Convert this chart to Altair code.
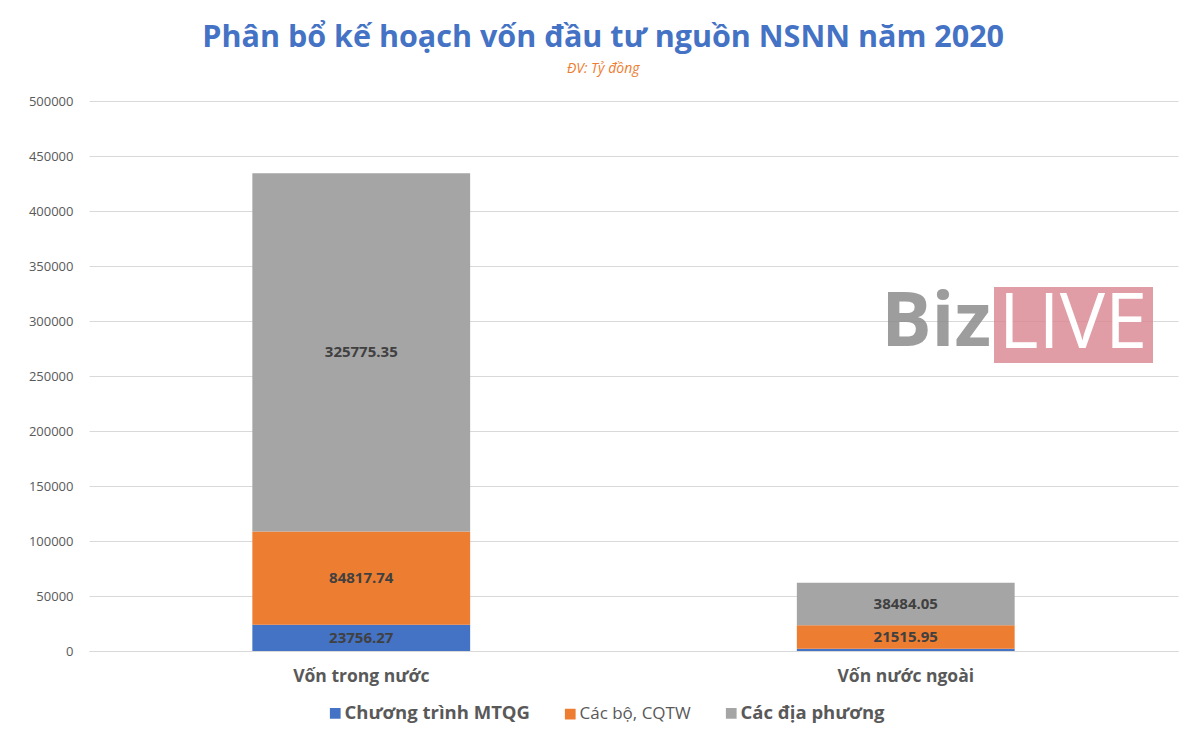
import altair as alt
import pandas as pd

categories = ["Vốn trong nước", "Vốn nước ngoài"]
series = ["Chương trình MTQG", "Các bộ, CQTW", "Các địa phương"]
mtqg = [23756.27, 2000.0]
cacbo = [84817.74, 21515.95]
diaphuong = [325775.35, 38484.05]
colors = ["#4472C4", "#ED7D31", "#A5A5A5"]

rows = []
for i, c in enumerate(categories):
    for j, (s, vals) in enumerate(zip(series, [mtqg, cacbo, diaphuong])):
        v = vals[i]
        rows.append({"cat": c, "series": s, "order": j, "value": v,
                     "label": f"{v:.2f}" if v > 5000 else ""})
df = pd.DataFrame(rows)

FONT = "Open Sans"

base = alt.Chart(df).transform_stack(
    stack="value", groupby=["cat"], as_=["v0", "v1"], sort=[alt.SortField("order", "ascending")]
).transform_calculate(mid="(datum.v0 + datum.v1) / 2")

xenc = alt.X("cat:N", sort=categories, title=None,
             scale=alt.Scale(paddingInner=0.6, paddingOuter=0.3),
             axis=alt.Axis(labelAngle=0, labelFontSize=17.5, labelFontWeight="bold",
                           labelColor="#595959", labelFont=FONT, ticks=False,
                           domainColor="#d9d9d9", labelPadding=16))

legend = alt.Legend(orient="none", legendX=237, legendY=603, title=None,
                    direction="horizontal",
                    labelFontSize={"expr": "datum.label == 'Các bộ, CQTW' ? 17 : 18.5"},
                    labelFontWeight={"expr": "datum.label == 'Các bộ, CQTW' ? 'normal' : 'bold'"},
                    labelLimit=300,
                    labelColor="#595959", labelFont=FONT, labelOffset=0,
                    symbolType="square", symbolSize=115,
                    symbolStrokeWidth=0, columnPadding=31)

bars = base.mark_bar().encode(
    x=xenc,
    y=alt.Y("v0:Q", title=None,
            scale=alt.Scale(domain=[0, 500000]),
            axis=alt.Axis(values=list(range(0, 500001, 50000)), format="d", labelFontSize=13,
                          labelColor="#595959", labelFont=FONT, ticks=False,
                          domain=False, gridColor="#d9d9d9", labelPadding=16)),
    y2="v1:Q",
    color=alt.Color("series:N", sort=series,
                    scale=alt.Scale(domain=series, range=colors),
                    legend=legend),
)

labels = base.mark_text(fontSize=15, fontWeight="bold", color="#404040", font=FONT).encode(
    x=alt.X("cat:N", sort=categories),
    y="mid:Q",
    text="label:N",
)

wm_rect = alt.Chart(pd.DataFrame({"a": [0]})).mark_rect(color="#d9848f", opacity=0.8).encode(
    x=alt.value(905), x2=alt.value(1064), y=alt.value(186), y2=alt.value(262))
wm_biz = alt.Chart(pd.DataFrame({"t": ["Biz"]})).mark_text(
    fontSize=75, fontWeight="bold", color="#8c8c8c", opacity=0.85, font=FONT, align="right",
    baseline="middle").encode(x=alt.value(902), y=alt.value(222), text="t:N")
wm_live = alt.Chart(pd.DataFrame({"t": ["LIVE"]})).mark_text(
    fontSize=76, fontWeight="normal", color="white", font=FONT, align="center",
    baseline="middle").encode(x=alt.value(984), y=alt.value(224), text="t:N")

chart = alt.layer(bars, labels, wm_rect, wm_biz, wm_live).properties(
    width=1089, height=550,
    title=alt.TitleParams("Phân bổ kế hoạch vốn đầu tư nguồn NSNN năm 2020",
                          subtitle="ĐV: Tỷ đồng", fontSize=30.5, font=FONT, fontWeight="bold",
                          color="#4472C4", subtitleColor="#ED7D31", subtitleFontSize=14,
                          subtitleFont=FONT, subtitleFontStyle="italic", anchor="middle",
                          frame="bounds", offset=19, subtitlePadding=9),
    padding={"left": 20, "top": 14, "right": 5, "bottom": 5},
).configure_view(stroke=None)

chart.save("out.html", embed_options={"renderer": "svg", "actions": False})
